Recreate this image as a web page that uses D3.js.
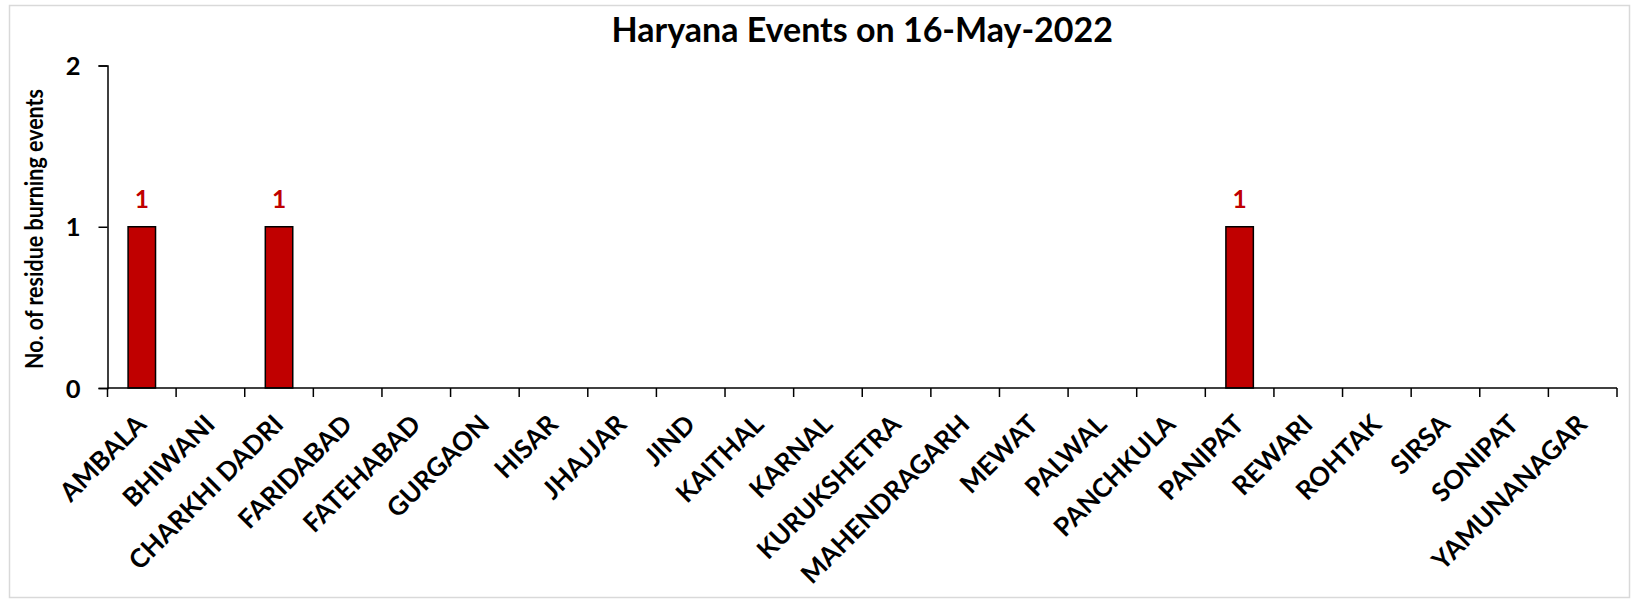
<!DOCTYPE html>
<html>
<head>
<meta charset="utf-8">
<script src="https://cdn.jsdelivr.net/npm/d3@7"></script>
<style>
  html, body { margin: 0; padding: 0; background: #fff; }
  text { font-family: Lato, "Open Sans", sans-serif; font-weight: bold; }
</style>
</head>
<body>
<svg id="chart" width="1635" height="603"></svg>
<script>
const categories = ["AMBALA","BHIWANI","CHARKHI DADRI","FARIDABAD","FATEHABAD","GURGAON","HISAR","JHAJJAR","JIND","KAITHAL","KARNAL","KURUKSHETRA","MAHENDRAGARH","MEWAT","PALWAL","PANCHKULA","PANIPAT","REWARI","ROHTAK","SIRSA","SONIPAT","YAMUNANAGAR"];
const events = [1,0,1,0,0,0,0,0,0,0,0,0,0,0,0,0,1,0,0,0,0,0];
const yTicks = [0,1,2];
const titleText = "Haryana Events on 16-May-2022";
const yTitle = "No. of residue burning events";

const W = 1635, H = 603;
const margin = {left: 107.5, right: 18, top: 65.5, bottom: 215};
const svg = d3.select("#chart");

svg.append("rect").attr("x", 9.5).attr("y", 5.5).attr("width", 1620).attr("height", 592)
  .attr("fill", "#fff").attr("stroke", "#d9d9d9").attr("stroke-width", 1.5);

const x = d3.scaleBand().domain(categories).range([margin.left, W - margin.right]).paddingInner(0).paddingOuter(0);
const y = d3.scaleLinear().domain([0, 2]).range([H - margin.bottom, margin.top]);
const y0 = y(0);

// bars
const data = categories.map((c, i) => ({c, v: events[i]}));
const bw = x.bandwidth() * 0.4;
svg.append("g").selectAll("rect").data(data.filter(d => d.v > 0)).join("rect")
  .attr("x", d => x(d.c) + x.bandwidth()/2 - bw/2)
  .attr("y", d => y(d.v))
  .attr("width", bw)
  .attr("height", d => y0 - y(d.v))
  .attr("fill", "#C00000").attr("stroke", "#000").attr("stroke-width", 1.5);

// bar labels
svg.append("g").selectAll("text").data(data.filter(d => d.v > 0)).join("text")
  .attr("x", d => x(d.c) + x.bandwidth()/2)
  .attr("y", d => y(d.v) - 19)
  .attr("text-anchor", "middle")
  .attr("fill", "#C00000").attr("font-size", 24.5)
  .text(d => d.v);

// y axis
const yAxis = d3.axisLeft(y).tickValues(yTicks).tickSize(9).tickFormat(d3.format("d"));
const gy = svg.append("g").attr("transform", `translate(${margin.left},0)`).call(yAxis);
gy.select(".domain").attr("stroke", "#000").attr("stroke-width", 1.5);
gy.selectAll(".tick line").attr("stroke", "#000").attr("stroke-width", 1.5);
gy.selectAll(".tick text").attr("font-size", 25.5).attr("fill", "#000")
  .attr("font-family", "Lato, sans-serif").attr("font-weight", "bold")
  .attr("x", -27).attr("dy", "0.36em");

// x axis: ticks at band boundaries
const gx = svg.append("g").attr("transform", `translate(0,${y0})`);
gx.append("line").attr("x1", margin.left).attr("x2", W - margin.right).attr("y1", 0).attr("y2", 0)
  .attr("stroke", "#000").attr("stroke-width", 1.5);
const bounds = categories.map(c => x(c)).concat([x(categories[categories.length-1]) + x.bandwidth()]);
gx.selectAll("line.tk").data(bounds).join("line").attr("class", "tk")
  .attr("x1", d => d).attr("x2", d => d).attr("y1", 0).attr("y2", 9)
  .attr("stroke", "#000").attr("stroke-width", 1.5);
gx.selectAll("text").data(categories).join("text")
  .attr("transform", d => `translate(${x(d) + x.bandwidth()/2 + 6},${38}) rotate(-45)`)
  .attr("text-anchor", "end")
  .attr("font-size", 26).attr("fill", "#000")
  .text(d => d);

// title
svg.append("text").attr("x", (margin.left + W - margin.right)/2).attr("y", 42)
  .attr("text-anchor", "middle").attr("font-size", 34).attr("fill", "#000").text(titleText);

// y title
svg.append("text").attr("transform", `translate(43,229) rotate(-90)`)
  .attr("text-anchor", "middle").attr("font-size", 25)
  .attr("textLength", 280).attr("lengthAdjust", "spacingAndGlyphs")
  .attr("fill", "#000").text(yTitle);
</script>
</body>
</html>
